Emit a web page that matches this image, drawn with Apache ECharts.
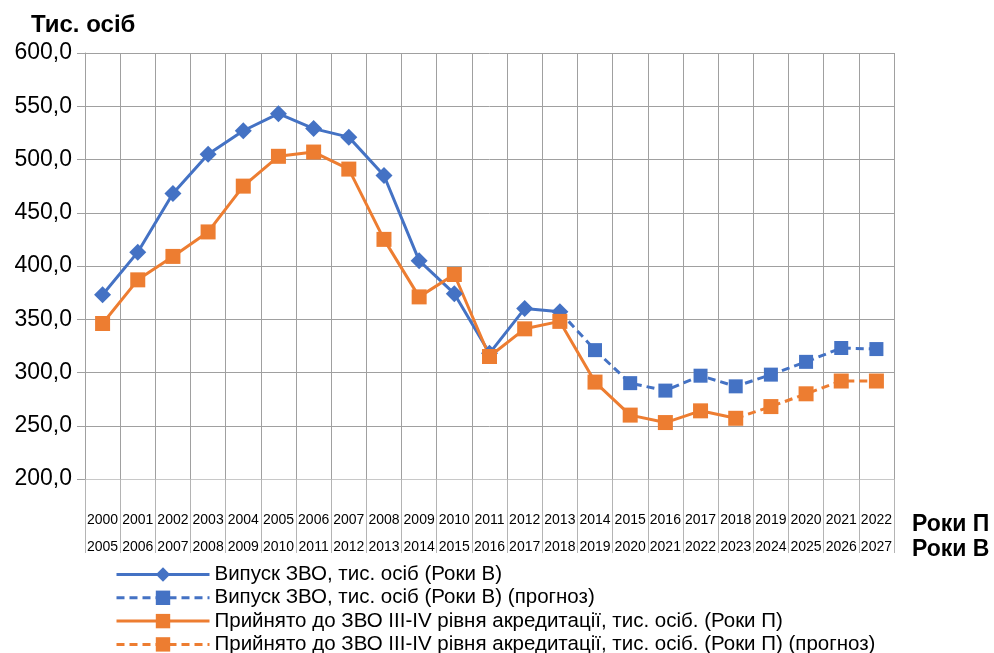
<!DOCTYPE html>
<html>
<head>
    <meta charset="UTF-8" />
    <title>Випуск ЗВО</title>
    <script src="https://cdn.jsdelivr.net/npm/echarts@6/dist/echarts.min.js"></script>
    <style>
        html, body { margin: 0; padding: 0; background: #fff; }
        #chart { width: 994px; height: 653px; }
    </style>
</head>
<body>
    <div id="chart"></div>
    <script type="text/javascript">
        // підписи категорій (два рівні)
        let yearsP = ['2000', '2001', '2002', '2003', '2004', '2005', '2006', '2007', '2008', '2009', '2010', '2011',
            '2012', '2013', '2014', '2015', '2016', '2017', '2018', '2019', '2020', '2021', '2022'];
        let yearsV = ['2005', '2006', '2007', '2008', '2009', '2010', '2011', '2012', '2013', '2014', '2015', '2016',
            '2017', '2018', '2019', '2020', '2021', '2022', '2023', '2024', '2025', '2026', '2027'];

        // тис. осіб
        let vypusk = [373, 413, 468, 505, 527, 543, 529, 521, 485, 405, 374, 318,
            360, 357, 321, 290, 283, 297, 287, 298, 310, 323, 322];
        let pryiniato = [346, 387, 409, 432, 475, 503, 507, 491, 425, 371, 392, 315,
            341, 348, 291, 260, 253, 264, 257, 268, 280, 292, 292];

        // останній фактичний індекс, далі прогноз
        let vypuskLast = 13;
        let pryiniatoLast = 18;

        let yTicks = [200, 250, 300, 350, 400, 450, 500, 550, 600];

        const BLUE = '#4472C4';
        const ORANGE = '#ED7D31';
        const FONT = 'Liberation Sans, Arial, sans-serif';

        let factPart = (arr, last) => arr.map((v, i) => i <= last ? v : null);
        let forecastPart = (arr, last) => arr.map((v, i) => {
            if (i < last) return null;
            if (i === last) return { value: v, symbol: 'none' };
            return v;
        });

        let chart = echarts.init(document.getElementById('chart'), null, { renderer: 'canvas' });

        let lineSeries = (name, data, color, dashed, symbol, size) => ({
            name: name,
            type: 'line',
            data: data,
            symbol: symbol,
            symbolSize: size,
            showAllSymbol: true,
            connectNulls: false,
            animation: false,
            itemStyle: { color: color },
            lineStyle: { color: color, width: 3, type: dashed ? [8, 5] : 'solid' }
        });

        let option = {
            animation: false,
            textStyle: { fontFamily: FONT },
            grid: { left: 85, right: 100, top: 53, bottom: 174, containLabel: false },
            title: [
                { text: 'Тис. осіб', left: 26, top: 8, textStyle: { fontSize: 24, fontWeight: 'bold', color: '#000', fontFamily: FONT } },
                { text: 'Роки П', left: 907, top: 508, textStyle: { fontSize: 23, fontWeight: 'bold', color: '#000', fontFamily: FONT } },
                { text: 'Роки В', left: 907, top: 533, textStyle: { fontSize: 23, fontWeight: 'bold', color: '#000', fontFamily: FONT } }
            ],
            legend: {
                orient: 'vertical',
                left: 110,
                top: 559,
                height: 150,
                itemWidth: 93,
                itemHeight: 18,
                itemGap: 2.3,
                itemTextGap: 7,
                lineStyle: { width: 3 },
                textStyle: { fontSize: 20.5, color: '#000', fontFamily: FONT },
                data: [
                    'Випуск ЗВО, тис. осіб (Роки В)',
                    'Випуск ЗВО, тис. осіб (Роки В) (прогноз)',
                    'Прийнято до ЗВО III-IV рівня акредитації, тис. осіб. (Роки П)',
                    'Прийнято до ЗВО III-IV рівня акредитації, тис. осіб. (Роки П) (прогноз)'
                ]
            },
            xAxis: {
                type: 'category',
                data: yearsP,
                boundaryGap: true,
                axisLine: { show: true, lineStyle: { color: '#c8c8c8', width: 1 } },
                axisTick: { show: true, length: 74, interval: 0, lineStyle: { color: '#b4b4b4', width: 1 } },
                splitLine: { show: true, interval: 0, lineStyle: { color: '#a0a0a0', width: 1 } },
                axisLabel: {
                    interval: 0,
                    margin: 28,
                    fontSize: 14,
                    lineHeight: 27,
                    color: '#000',
                    fontFamily: FONT,
                    formatter: (value, index) => yearsP[index] + '\n' + yearsV[index]
                }
            },
            yAxis: {
                type: 'value',
                min: yTicks[0],
                max: yTicks[yTicks.length - 1],
                interval: 50,
                axisLine: { show: true, lineStyle: { color: '#a0a0a0', width: 1 } },
                axisTick: { show: true, length: 8, lineStyle: { color: '#a0a0a0', width: 1 } },
                splitLine: { show: true, lineStyle: { color: '#a0a0a0', width: 1 } },
                axisLabel: {
                    margin: 13,
                    fontSize: 23,
                    color: '#000',
                    fontFamily: FONT,
                    formatter: v => v.toFixed(1).replace('.', ',')
                }
            },
            series: [
                lineSeries('Випуск ЗВО, тис. осіб (Роки В)', factPart(vypusk, vypuskLast), BLUE, false, 'diamond', 17),
                lineSeries('Випуск ЗВО, тис. осіб (Роки В) (прогноз)', forecastPart(vypusk, vypuskLast), BLUE, true, 'rect', 14),
                lineSeries('Прийнято до ЗВО III-IV рівня акредитації, тис. осіб. (Роки П)', factPart(pryiniato, pryiniatoLast), ORANGE, false, 'rect', 15),
                lineSeries('Прийнято до ЗВО III-IV рівня акредитації, тис. осіб. (Роки П) (прогноз)', forecastPart(pryiniato, pryiniatoLast), ORANGE, true, 'rect', 15)
            ]
        };
        chart.setOption(option);
    </script>
</body>
</html>
